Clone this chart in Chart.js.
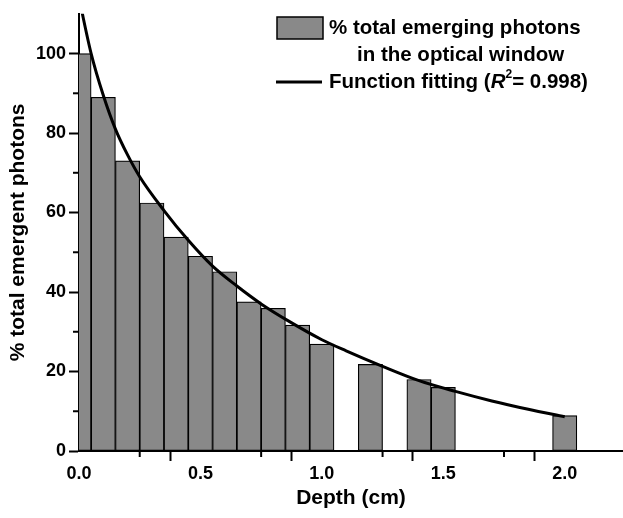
<!DOCTYPE html>
<html>
<head>
<meta charset="utf-8">
<script src="https://cdn.jsdelivr.net/npm/chart.js@4.4.0/dist/chart.umd.min.js"></script>
<style>
  html, body { margin: 0; padding: 0; background: #fff; }
  #wrap { width: 623px; height: 518px; }
</style>
</head>
<body>
<div id="wrap"><canvas id="chart" width="623" height="518"></canvas></div>
<script>
// bars: depth (cm) and % of emerging photons in the optical window
const depths = [0.0, 0.1, 0.2, 0.3, 0.4, 0.5, 0.6, 0.7, 0.8, 0.9, 1.0, 1.2, 1.4, 1.5, 2.0];
const emerging = [100, 89, 73, 62.4, 53.8, 49, 45.1, 37.5, 35.9, 31.7, 26.9, 21.8, 18, 16, 8.9];

// fitted curve
const fitX = [0, 0.05, 0.1, 0.15, 0.2, 0.25, 0.35, 0.45, 0.55, 0.65, 0.75, 0.86, 1.0, 1.1, 1.25, 1.4, 1.55, 1.7, 1.85, 2.0];
const fitY = [114, 100, 89.5, 81, 74.5, 69, 60.5, 53, 46.5, 41.5, 37, 32.8, 28, 25.2, 21.3, 17.7, 15, 12.6, 10.5, 8.6];

const xMajor = [0, 0.5, 1, 1.5, 2];
const xMinor = [0.25, 0.75, 1.25, 1.75];
const yMajor = [0, 20, 40, 60, 80, 100];
const yMinor = [10, 30, 50, 70, 90];

const FONT = "'Liberation Sans', Arial, sans-serif";

const minorTicks = {
  id: "minorTicks",
  afterDraw(chart) {
    const { ctx, scales: { x, y }, chartArea } = chart;
    ctx.save();
    ctx.strokeStyle = "#000";
    ctx.lineWidth = 2;
    xMinor.forEach(v => {
      const px = x.getPixelForValue(v);
      ctx.beginPath();
      ctx.moveTo(px, chartArea.bottom);
      ctx.lineTo(px, chartArea.bottom + 6);
      ctx.stroke();
    });
    yMinor.forEach(v => {
      const py = y.getPixelForValue(v);
      ctx.beginPath();
      ctx.moveTo(chartArea.left, py);
      ctx.lineTo(chartArea.left - 6, py);
      ctx.stroke();
    });
    ctx.restore();
  }
};

const legendBox = {
  id: "legendBox",
  afterDraw(chart) {
    const ctx = chart.ctx;
    ctx.save();
    ctx.fillStyle = "#898989";
    ctx.strokeStyle = "#000";
    ctx.lineWidth = 1.5;
    ctx.fillRect(277, 17, 46, 22);
    ctx.strokeRect(277, 17, 46, 22);

    ctx.lineWidth = 3;
    ctx.beginPath();
    ctx.moveTo(276, 82);
    ctx.lineTo(322, 82);
    ctx.stroke();

    ctx.fillStyle = "#000";
    ctx.textBaseline = "middle";
    ctx.textAlign = "left";
    ctx.font = "bold 20.5px " + FONT;
    ctx.fillText("% total emerging photons", 329, 28);
    ctx.fillText("in the optical window", 357, 55);

    let tx = 329;
    const part1 = "Function fitting (";
    ctx.fillText(part1, tx, 82);
    tx += ctx.measureText(part1).width;
    ctx.font = "italic bold 20.5px " + FONT;
    ctx.fillText("R", tx, 82);
    tx += ctx.measureText("R").width;
    ctx.font = "bold 12px " + FONT;
    ctx.fillText("2", tx, 75);
    tx += ctx.measureText("2").width;
    ctx.font = "bold 20.5px " + FONT;
    ctx.fillText("= 0.998)", tx, 82);
    ctx.restore();
  }
};

new Chart(document.getElementById("chart"), {
  type: "bar",
  data: {
    datasets: [
      {
        type: "line",
        label: "Function fitting",
        data: fitX.map((x, i) => ({ x: x, y: fitY[i] })),
        borderColor: "#000",
        borderWidth: 3,
        pointRadius: 0,
        cubicInterpolationMode: "monotone",
        order: 0
      },
      {
        type: "bar",
        label: "% total emerging photons in the optical window",
        data: depths.map((d, i) => ({ x: d, y: emerging[i] })),
        backgroundColor: "#898989",
        borderColor: "#000",
        borderWidth: 1.2,
        borderSkipped: false,
        barPercentage: 1,
        categoryPercentage: 1,
        order: 1
      }
    ]
  },
  options: {
    responsive: false,
    devicePixelRatio: 1,
    animation: false,
    layout: { padding: { top: 10, right: 0, left: 0, bottom: 0 } },
    plugins: {
      legend: { display: false },
      tooltip: { enabled: false }
    },
    scales: {
      x: {
        type: "linear",
        min: 0,
        max: 2.24,
        offset: false,
        afterBuildTicks: s => { s.ticks = [...xMajor, ...xMinor].sort((a, b) => a - b).map(v => ({ value: v })); },
        afterFit: s => { s.height = 67; },
        ticks: {
          autoSkip: false,
          maxRotation: 0,
          padding: 2,
          color: "#000",
          font: { family: FONT, size: 18, weight: "bold" },
          callback: v => xMajor.includes(v) ? v.toFixed(1) : ""
        },
        grid: {
          drawOnChartArea: false,
          tickLength: 10,
          tickWidth: 2,
          tickColor: c => (c.tick && xMajor.includes(c.tick.value)) ? "#000" : "rgba(0,0,0,0)"
        },
        border: { color: "#000", width: 2 },
        title: {
          display: true,
          text: "Depth (cm)",
          color: "#000",
          font: { family: FONT, size: 21, weight: "bold" },
          padding: { top: 0, bottom: 7 }
        }
      },
      y: {
        min: 0,
        max: 110,
        afterBuildTicks: s => { s.ticks = [...yMajor, ...yMinor].sort((a, b) => a - b).map(v => ({ value: v })); },
        afterFit: s => { s.width = 79; },
        ticks: {
          padding: 3,
          color: "#000",
          font: { family: FONT, size: 18, weight: "bold" },
          callback: v => yMajor.includes(v) ? String(v) : ""
        },
        grid: {
          drawOnChartArea: false,
          tickLength: 10,
          tickWidth: 2,
          tickColor: c => (c.tick && yMajor.includes(c.tick.value)) ? "#000" : "rgba(0,0,0,0)"
        },
        border: { color: "#000", width: 2 },
        title: {
          display: true,
          text: "% total emergent photons",
          color: "#000",
          font: { family: FONT, size: 21, weight: "bold" },
          padding: { top: 6, bottom: 0 }
        }
      }
    }
  },
  plugins: [minorTicks, legendBox]
});
</script>
</body>
</html>
